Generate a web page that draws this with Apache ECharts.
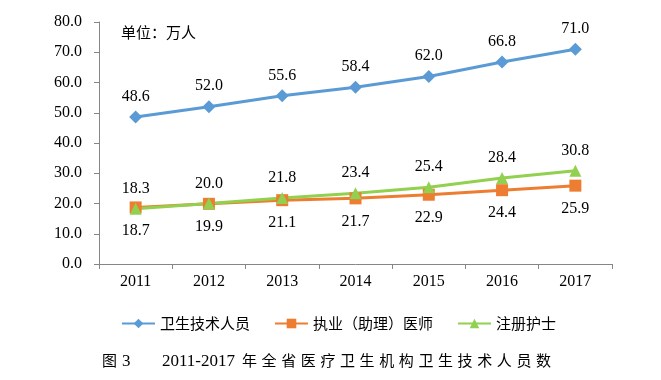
<!DOCTYPE html>
<html><head><meta charset="utf-8">
<script src="https://cdn.jsdelivr.net/npm/echarts@6/dist/echarts.min.js"></script>
<style>html,body{margin:0;padding:0;background:#fff}#c{width:661px;height:380px}</style>
</head><body><div id="c"></div>
<script>
const categories = ['2011','2012','2013','2014','2015','2016','2017'];
const techStaff = [48.6, 52.0, 55.6, 58.4, 62.0, 66.8, 71.0];
const doctors = [18.7, 19.9, 21.1, 21.7, 22.9, 24.4, 25.9];
const nurses = [18.3, 20.0, 21.8, 23.4, 25.4, 28.4, 30.8];
const seriesNames = ['卫生技术人员', '执业（助理）医师', '注册护士'];
const unitText = '单位：万人';
const captionFig = '图';
const captionNum = '3';
const captionYears = '2011-2017';
const captionText = '年全省医疗卫生机构卫生技术人员数';

const serif = '"Liberation Serif", "Noto Sans CJK SC", serif';
const cjk = '"Noto Sans CJK SC", sans-serif';
const chart = echarts.init(document.getElementById('c'));
const lbl = (pos, d) => ({show: true, position: pos, distance: d, color: '#000', fontFamily: serif, fontSize: 16,
  formatter: p => p.value.toFixed(1)});

const capTop = 353;
const graphic = [
  {type: 'text', left: 102, top: capTop, style: {text: captionFig, font: '15px ' + cjk, fill: '#000'}},
  {type: 'text', left: 122, top: capTop, style: {text: captionNum, font: '17px ' + serif, fill: '#000'}},
  {type: 'text', left: 162, top: capTop, style: {text: captionYears, font: '17px ' + serif, fill: '#000'}}
];
Array.from(captionText).forEach((ch, i) => {
  graphic.push({type: 'text', left: 242 + i * 19.6, top: capTop, style: {text: ch, font: '15px ' + cjk, fill: '#000'}});
});

chart.setOption({
  animation: false,
  grid: {left: 99, right: 49, top: 22, bottom: 116},
  title: {text: unitText, left: 121, top: 25, padding: 0, textStyle: {fontFamily: cjk, fontSize: 15, fontWeight: 'normal', color: '#000'}},
  legend: {
    left: 121, top: 316, padding: 0, itemWidth: 33, itemHeight: 12, itemGap: 24,
    textStyle: {fontFamily: cjk, fontSize: 15, color: '#000'},
    data: seriesNames
  },
  graphic: graphic,
  xAxis: {
    type: 'category', data: categories, boundaryGap: true,
    axisLine: {lineStyle: {color: '#868686'}},
    axisTick: {show: true, length: 5, lineStyle: {color: '#868686'}},
    axisLabel: {color: '#000', fontFamily: serif, fontSize: 16, margin: 10}
  },
  yAxis: {
    type: 'value', min: 0, max: 80, interval: 10,
    axisLine: {show: true, lineStyle: {color: '#868686'}},
    axisTick: {show: true, length: 5, lineStyle: {color: '#868686'}},
    splitLine: {show: false},
    axisLabel: {color: '#000', fontFamily: serif, fontSize: 16, margin: 17, formatter: v => v.toFixed(1)}
  },
  series: [
    {name: seriesNames[0], type: 'line', data: techStaff, symbol: 'diamond', symbolSize: 13,
     lineStyle: {width: 3, color: '#5B9BD5'}, itemStyle: {color: '#5B9BD5'}, label: lbl('top', 6)},
    {name: seriesNames[1], type: 'line', data: doctors, symbol: 'rect', symbolSize: 12,
     lineStyle: {width: 3, color: '#ED7D31'}, itemStyle: {color: '#ED7D31'}, label: lbl('bottom', 9)},
    {name: seriesNames[2], type: 'line', data: nurses, symbol: 'triangle', symbolSize: 12,
     lineStyle: {width: 3, color: '#92D050'}, itemStyle: {color: '#92D050'}, label: lbl('top', 6)}
  ]
});
</script></body></html>
